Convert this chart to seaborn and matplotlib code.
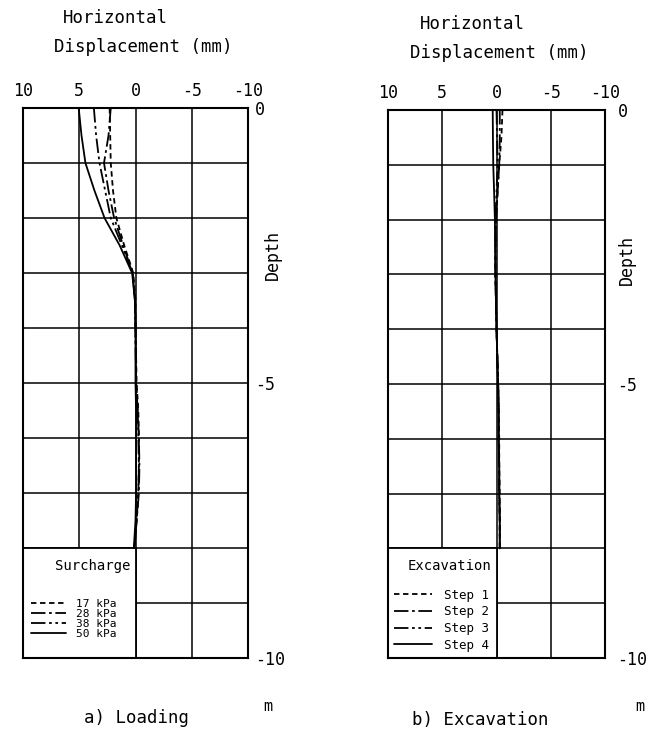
import pandas as pd
import matplotlib.pyplot as plt
import seaborn as sns
from matplotlib.patches import Rectangle

# depth of inclinometer readings (m)
depth = [0, -0.5, -1, -1.5, -2, -2.5, -3, -3.5, -4, -5, -5.5, -6, -6.5, -7, -7.5, -8]

# a) loading, horizontal displacement (mm)
load_17 = [2.3, 2.25, 2.2, 2.0, 1.7, 1.0, 0.2, 0.0, 0.0, -0.1, -0.25, -0.3, -0.3, -0.25, -0.1, 0.1]
load_28 = [2.2, 2.4, 2.8, 2.4, 1.9, 1.1, 0.25, 0.05, 0.0, -0.05, -0.2, -0.3, -0.35, -0.3, -0.1, 0.1]
load_38 = [3.7, 3.5, 3.2, 2.7, 2.2, 1.2, 0.25, 0.05, 0.0, -0.05, -0.2, -0.25, -0.3, -0.25, -0.1, 0.1]
load_50 = [5.05, 4.8, 4.45, 3.65, 2.75, 1.4, 0.3, 0.05, 0.0, 0.0, -0.05, -0.05, -0.05, -0.05, 0.0, 0.15]
load_labels = ["17 kPa", "28 kPa", "38 kPa", "50 kPa"]

# b) excavation, horizontal displacement (mm)
exc_1 = [-0.55, -0.45, -0.25, -0.1, 0.05, 0.1, 0.1, 0.05, 0.0, -0.15, -0.2, -0.25, -0.25, -0.3, -0.3, -0.3]
exc_2 = [-0.3, -0.3, -0.25, -0.1, 0.05, 0.1, 0.1, 0.05, 0.0, -0.15, -0.2, -0.2, -0.25, -0.25, -0.3, -0.3]
exc_3 = [0.0, -0.05, -0.1, 0.0, 0.1, 0.1, 0.1, 0.05, 0.0, -0.15, -0.2, -0.2, -0.25, -0.25, -0.3, -0.3]
exc_4 = [0.35, 0.33, 0.3, 0.22, 0.15, 0.12, 0.1, 0.05, 0.0, -0.15, -0.2, -0.2, -0.25, -0.25, -0.3, -0.3]
exc_labels = ["Step 1", "Step 2", "Step 3", "Step 4"]

styles = [(3, 2), (8, 2, 1.5, 2), (8, 2, 1.5, 2, 1.5, 2), ""]

sns.set_style("white")
plt.rcParams["font.family"] = ["DejaVu Sans Mono"]
for key in ["text.color", "xtick.color", "ytick.color", "axes.labelcolor"]:
    plt.rcParams[key] = "black"


def toFrame(series, labels):
    rows = []
    for vals, lab in zip(series, labels):
        for d, v in zip(depth, vals):
            rows.append({"depth": d, "disp": v, "case": lab})
    return pd.DataFrame(rows)


def drawPanel(ax, df, labels, legend_title, leg_opts, ypad):
    sns.lineplot(data=df, x="disp", y="depth", hue="case", style="case",
                 palette=["black"] * 4, dashes=dict(zip(labels, styles)),
                 orient="y", estimator=None, sort=False, linewidth=1.3,
                 legend=False, ax=ax)
    ax.set_xlim(10, -10)
    ax.set_ylim(-10, 0)
    ax.set_xticks([10, 5, 0, -5, -10])
    ax.set_xticklabels(["10", "5", "0", "-5", "-10"])
    ax.set_yticks(range(-10, 1))
    ax.set_yticklabels(["-10" if t == -10 else "-5" if t == -5 else "0" if t == 0 else ""
                        for t in range(-10, 1)])
    ax.yaxis.get_ticklabels()[-1].set_verticalalignment("top")
    ax.xaxis.tick_top()
    ax.yaxis.tick_right()
    ax.tick_params(axis="x", length=0, pad=6, labelsize=12)
    ax.tick_params(axis="y", length=0, pad=ypad, labelsize=12)
    ax.set_xlabel("")
    ax.set_ylabel("")
    ax.grid(True, color="black", linewidth=1.1)
    ax.set_axisbelow(True)
    for sp in ax.spines.values():
        sp.set_color("black")
        sp.set_linewidth(1.5)

    # legend box in the lower-left cells
    ax.add_patch(Rectangle((0, -10), 10, 2, facecolor="white", edgecolor="black",
                           linewidth=1.3, zorder=1))
    ax.legend(ax.lines[:4], labels, loc="lower left", frameon=False, **leg_opts)
    ax.text(0.475, 0.168, legend_title, transform=ax.transAxes, ha="right",
            va="center", fontsize=10)


fig = plt.figure(figsize=(6.61, 7.33), dpi=100)
ax1 = fig.add_axes([0.0348, 0.1023, 0.3404, 0.7503])
ax2 = fig.add_axes([0.587, 0.1023, 0.3283, 0.7476])

drawPanel(ax1, toFrame([load_17, load_28, load_38, load_50], load_labels),
          load_labels, "Surcharge",
          dict(fontsize=8, labelspacing=0.0, handlelength=3.2, handletextpad=0.9,
               bbox_to_anchor=(0.0, 0.02), borderaxespad=0.3), 5)
drawPanel(ax2, toFrame([exc_1, exc_2, exc_3, exc_4], exc_labels),
          exc_labels, "Excavation",
          dict(fontsize=9, labelspacing=0.3, handlelength=3.0, handletextpad=1.0,
               bbox_to_anchor=(0.0, 0.0), borderaxespad=0.1), 9)

# headings and axis annotations
fig.text(63 / 661, 1 - 18 / 733, "Horizontal", fontsize=12.5, ha="left", va="center")
fig.text(54 / 661, 1 - 47 / 733, "Displacement (mm)", fontsize=12.5, ha="left", va="center")
fig.text(420 / 661, 1 - 24 / 733, "Horizontal", fontsize=12.5, ha="left", va="center")
fig.text(410 / 661, 1 - 53 / 733, "Displacement (mm)", fontsize=12.5, ha="left", va="center")

ax1.text(1.11, 0.733, "Depth", transform=ax1.transAxes, rotation=90,
         ha="center", va="center", fontsize=12)
ax2.text(1.10, 0.726, "Depth", transform=ax2.transAxes, rotation=90,
         ha="center", va="center", fontsize=12)
ax1.text(1.09, -0.089, "m", transform=ax1.transAxes, ha="center", va="center", fontsize=11)
ax2.text(1.16, -0.089, "m", transform=ax2.transAxes, ha="center", va="center", fontsize=11)

fig.text(136 / 661, 1 - 718 / 733, "a) Loading", fontsize=12.5, ha="center", va="center")
fig.text(480 / 661, 1 - 720 / 733, "b) Excavation", fontsize=12.5, ha="center", va="center")

fig.savefig("out.png", dpi=100)
